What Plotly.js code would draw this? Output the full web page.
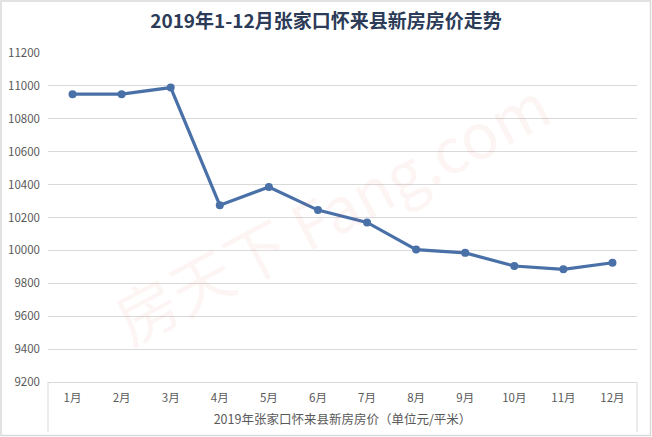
<!DOCTYPE html>
<html>
<head>
<meta charset="utf-8">
<script src="https://cdn.plot.ly/plotly-3.0.1.min.js"></script>
<style>html,body{margin:0;padding:0;background:#fff;}#chart{width:652px;height:437px;}</style>
</head>
<body>
<div id="chart"></div>
<script>
const months = ["1月","2月","3月","4月","5月","6月","7月","8月","9月","10月","11月","12月"];
const prices = [10950, 10950, 10990, 10275, 10385, 10245, 10170, 10005, 9985, 9905, 9885, 9925];
const yTicks = [9200, 9400, 9600, 9800, 10000, 10200, 10400, 10600, 10800, 11000, 11200];
const chartTitle = "2019年1-12月张家口怀来县新房房价走势";
const xTitle = "2019年张家口怀来县新房房价（单位元/平米）";
const watermark = "房天下 Fang.com";

const font = "'Microsoft YaHei','Noto Sans CJK SC','Noto Sans',sans-serif";
const L = 48, R = 637, T = 53, B = 382, W = 652, H = 437;
const px = v => (v - L) / (R - L);
const py = v => (B - v) / (B - T);

const trace = {
  x: months, y: prices, type: "scatter", mode: "lines+markers",
  line: {color: "#4a70a8", width: 3.2},
  marker: {color: "#4a70a8", size: 8},
  hoverinfo: "x+y"
};

const layout = {
  width: W, height: H,
  margin: {l: L, r: W - R, t: T, b: H - B, autoexpand: false},
  paper_bgcolor: "#ffffff", plot_bgcolor: "#ffffff",
  showlegend: false,
  title: {text: "<b>" + chartTitle + "</b>", x: 0.5, xanchor: "center", y: 1 - 21/H, yanchor: "middle",
          font: {family: font, size: 19, color: "#2c3b57"}},
  xaxis: {
    type: "category", categoryorder: "array", categoryarray: months,
    range: [-0.5, months.length - 0.5],
    automargin: false,
    showgrid: false, zeroline: false,
    showline: true, linecolor: "#d9d9d9", linewidth: 1,
    ticks: "", tickfont: {family: font, size: 11.5, color: "#595959"},
    ticklabelstandoff: 5,
    title: {text: xTitle, font: {family: font, size: 12.5, color: "#595959"}, standoff: 11},
    fixedrange: true
  },
  yaxis: {
    automargin: false,
    range: [9200, 11200], tickvals: yTicks, ticktext: yTicks.map(String),
    showgrid: true, gridcolor: "#d9d9d9", gridwidth: 1,
    zeroline: false, showline: false, ticks: "",
    tickfont: {family: font, size: 11.5, color: "#595959"},
    ticklabelstandoff: 7,
    fixedrange: true
  },
  shapes: [
    {type: "line", xref: "paper", yref: "paper", x0: 0, x1: 0, y0: 0, y1: py(432), line: {color: "#d9d9d9", width: 1}},
    {type: "line", xref: "paper", yref: "paper", x0: 1, x1: 1, y0: 0, y1: py(432), line: {color: "#d9d9d9", width: 1}},
    {type: "rect", xref: "paper", yref: "paper", x0: px(1), x1: px(650.5), y0: py(435.5), y1: py(1), line: {color: "#d9d9d9", width: 1.5}, layer: "below"}
  ],
  annotations: [
    {text: watermark, xref: "paper", yref: "paper", x: px(330), y: py(210), showarrow: false,
     textangle: -28, font: {family: font, size: 62, color: "rgba(225,70,70,0.06)"}}
  ]
};

Plotly.newPlot("chart", [trace], layout, {displayModeBar: false, staticPlot: true});
</script>
</body>
</html>
